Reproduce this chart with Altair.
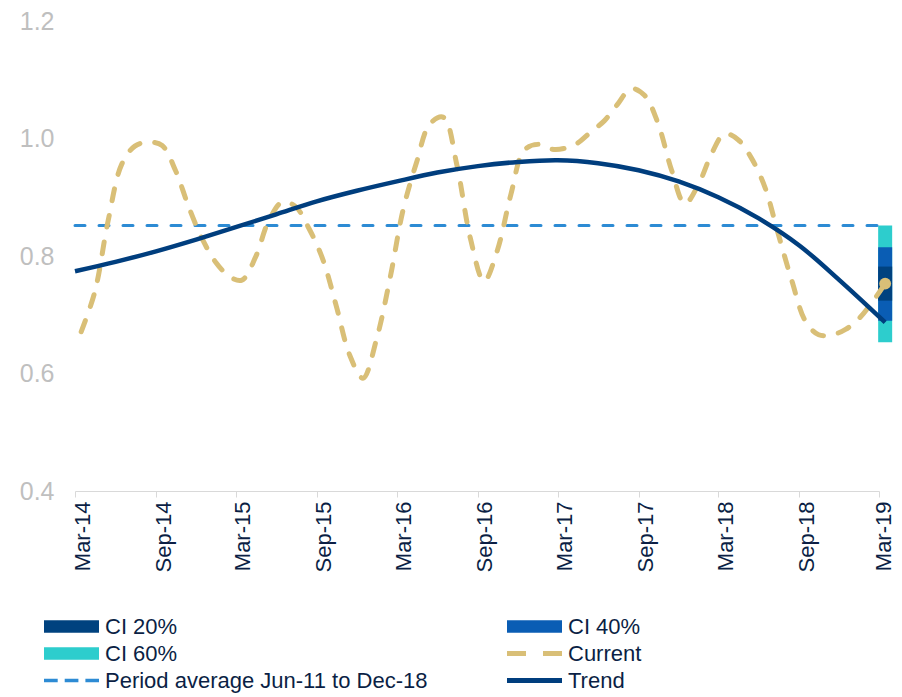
import altair as alt
import pandas as pd

# ---------------- data ----------------
current_dates = [f"{2014 + (2 + i) // 12}-{(2 + i) % 12 + 1:02d}-15" for i in range(61)]
current_values = [0.671, 0.739, 0.859, 0.956, 0.987, 0.994, 0.988, 0.946, 0.882, 0.829,
                  0.789, 0.765, 0.759, 0.798, 0.860, 0.892, 0.884, 0.846, 0.794, 0.716,
                  0.631, 0.592, 0.659, 0.764, 0.878, 0.960, 1.025, 1.036, 0.956, 0.830,
                  0.757, 0.809, 0.905, 0.980, 0.990, 0.982, 0.983, 0.992, 1.011, 1.030,
                  1.058, 1.085, 1.073, 1.026, 0.946, 0.889, 0.922, 0.976, 1.008, 0.998,
                  0.967, 0.917, 0.838, 0.758, 0.689, 0.666, 0.666, 0.675, 0.694, 0.723,
                  0.753]

trend_dates = [f"{2014 + (2 + 3 * i) // 12}-{(2 + 3 * i) % 12 + 1:02d}-01" for i in range(20)] + ["2019-03-15"]
trend_values = [0.774, 0.790, 0.808, 0.828, 0.849, 0.871, 0.893, 0.911, 0.927, 0.942,
                0.953, 0.960, 0.963, 0.958, 0.946, 0.927, 0.900, 0.864, 0.818, 0.759,
                0.687]

avg_label = "Period average Jun-11 to Dec-18"
avg_value = 0.852
avg_start = "2014-03-01"
avg_end = "2019-03-01"

ci_date = "2019-03-15"
ci_levels = ["CI 60%", "CI 40%", "CI 20%"]
ci_low = [0.653, 0.690, 0.724]
ci_high = [0.852, 0.815, 0.782]

latest_date = current_dates[-1]
latest_value = current_values[-1]

tick_dates = [(2014, 3), (2014, 9), (2015, 3), (2015, 9), (2016, 3), (2016, 9),
              (2017, 3), (2017, 9), (2018, 3), (2018, 9), (2019, 3)]
y_ticks = [0.4, 0.6, 0.8, 1.0, 1.2]

legend_names = ["CI 20%", "CI 40%", "CI 60%", "Current", avg_label, "Trend"]

# ---------------- styles ----------------
C_CI20 = "#00427F"
C_CI40 = "#0A5DB4"
C_CI60 = "#2DCDCD"
C_CUR = "#D9BF77"
C_AVG = "#2D8BD4"
C_TREND = "#003E7E"
NAVY_TXT = "#0B1F45"
FONT = "Liberation Sans"

ci_colors = [C_CI60, C_CI40, C_CI20]
legend_colors = [C_CI20, C_CI40, C_CI60, C_CUR, C_AVG, C_TREND]
legend_dashes = [[1, 0], [1, 0], [1, 0], [19, 17], [13.7, 7], [1, 0]]
legend_widths = [12.4, 12.4, 12.4, 5, 3.3, 5]

# ---------------- tables ----------------
cur_df = pd.DataFrame({"date": current_dates, "value": current_values})
trend_df = pd.DataFrame({"date": trend_dates, "value": trend_values})
avg_df = pd.DataFrame({"start": [avg_start], "end": [avg_end], "value": [avg_value]})
ci_df = pd.DataFrame({"date": [ci_date] * len(ci_levels), "level": ci_levels,
                      "low": ci_low, "high": ci_high})
pt_df = pd.DataFrame({"date": [latest_date], "value": [latest_value]})
legend_df = pd.DataFrame({"series": legend_names})

# ---------------- scales / axes ----------------
last_tick_ms = int(pd.Timestamp(year=tick_dates[-1][0], month=tick_dates[-1][1], day=1,
                                tz="UTC").value // 10**6)

xscale = alt.Scale(type="utc", nice=False, padding=0,
                   domain=[alt.DateTime(year=2014, month=3, date=1, utc=True),
                           alt.DateTime(year=2019, month=3, date=1, utc=True)])
xaxis = alt.Axis(values=[alt.DateTime(year=y, month=m, date=1, utc=True) for y, m in tick_dates],
                 format="%b-%y", labelAngle=-90, labelAlign="right", labelBaseline="top",
                 labelOffset={"condition": {"test": f"datum.value >= {last_tick_ms}", "value": -6},
                              "value": -3},
                 labelPadding=4, labelFontSize=22, labelFont=FONT,
                 labelColor=NAVY_TXT, labelFlush=False, labelOverlap=False,
                 tickColor="#D9D9D9", tickSize=6, domainColor="#D9D9D9", grid=False, title=None)
yscale = alt.Scale(domain=[0.4, 1.2], nice=False, zero=False, padding=0)
yaxis = alt.Axis(values=y_ticks, format=".1f", labelFontSize=25, labelFont=FONT,
                 labelColor="#BFBFBF", domain=False, ticks=False, tickSize=0,
                 labelPadding=21, grid=False, title=None)


def X(field):
    return alt.X(f"{field}:T", scale=xscale, axis=xaxis)


def Y(field):
    return alt.Y(f"{field}:Q", scale=yscale, axis=yaxis)


bars = alt.Chart(ci_df).mark_bar(size=14).encode(
    x=X("date"), y=Y("low"), y2="high:Q",
    fill=alt.Fill("level:N", scale=alt.Scale(domain=ci_levels, range=ci_colors), legend=None),
)

avg_rule = alt.Chart(avg_df).mark_rule(color=C_AVG, strokeWidth=3, strokeDash=[10, 14],
                                       strokeCap="round").encode(
    x=X("start"), x2="end:T", y=Y("value"))

current = alt.Chart(cur_df).mark_line(color=C_CUR, strokeWidth=5, strokeDash=[12, 15],
                                      strokeCap="round", interpolate="catmull-rom").encode(
    x=X("date"), y=Y("value"))

trend = alt.Chart(trend_df).mark_line(color=C_TREND, strokeWidth=4.5,
                                      interpolate="catmull-rom").encode(
    x=X("date"), y=Y("value"))

point = alt.Chart(pt_df).mark_circle(size=140, color=C_CUR, opacity=1).encode(
    x=X("date"), y=Y("value"))

leg = alt.Legend(orient="none", legendX=-31, legendY=592, direction="horizontal",
                 columns=2, columnPadding=79, rowPadding=0, clipHeight=27, padding=0,
                 symbolType="M-4,0H4", symbolSize=189, symbolOffset=14, labelOffset=20,
                 symbolOpacity=1,
                 labelFont=FONT, labelFontSize=22, labelColor=NAVY_TXT, labelLimit=600)

legend_layer = alt.Chart(legend_df).mark_point(filled=False, opacity=1).encode(
    color=alt.Color("series:N", scale=alt.Scale(domain=legend_names, range=legend_colors),
                    title=None, legend=leg),
    strokeDash=alt.StrokeDash("series:N", scale=alt.Scale(domain=legend_names, range=legend_dashes),
                              title=None, legend=leg),
    strokeWidth=alt.StrokeWidth("series:N",
                                scale=alt.Scale(type="ordinal", domain=legend_names, range=legend_widths),
                                title=None, legend=leg),
).transform_filter("false")

chart = alt.layer(bars, avg_rule, current, trend, point, legend_layer).properties(
    width=804, height=470,
    autosize=alt.AutoSizeParams(type="none"),
    padding={"left": 67, "top": 13, "right": 15, "bottom": 206},
    background="white",
).configure_view(stroke=None)

chart.save("out.html", embed_options={"renderer": "svg", "actions": False})
